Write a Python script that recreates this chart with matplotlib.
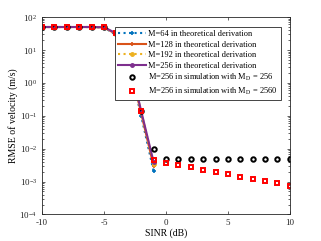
import matplotlib
matplotlib.use("Agg")
import matplotlib.pyplot as plt
import numpy as np

plt.rcParams['font.family'] = ['Liberation Serif', 'DejaVu Serif']
plt.rcParams['mathtext.fontset'] = 'stix'

# Data
sinr_theory = [-10, -9, -8, -7, -6, -5, -4, -3, -2, -1]
rmse_m64 = [50, 50, 50, 50, 50, 49, 28, 4.0, 0.10, 2.1e-3]
rmse_m128 = [50, 50, 50, 50, 50, 49, 30, 4.5, 0.12, 3.0e-3]
rmse_m192 = [50, 50, 50, 50, 50, 49, 31, 5.0, 0.13, 3.5e-3]
rmse_m256 = [50, 50, 50, 50, 50, 49, 32, 5.5, 0.14, 4.0e-3]

sinr_sim = [-10, -9, -8, -7, -6, -5, -4, -3, -2, -1, 0, 1, 2, 3, 4, 5, 6, 7, 8, 9, 10]
rmse_sim_md256 = [50, 50, 50, 50, 50, 49, 32, 5.5, 0.14, 9.5e-3,
                  5e-3, 5e-3, 5e-3, 5e-3, 5e-3, 5e-3, 5e-3, 5e-3, 5e-3, 5e-3, 5e-3]
rmse_sim_md2560 = [50, 50, 50, 50, 50, 49, 32, 5.5, 0.14, 4.5e-3,
                   3.8e-3, 3.2e-3, 2.7e-3, 2.3e-3, 1.95e-3, 1.65e-3, 1.4e-3, 1.2e-3, 1.02e-3, 8.8e-4, 7.5e-4]

labels = ["M=64 in theoretical derivation",
          "M=128 in theoretical derivation",
          "M=192 in theoretical derivation",
          "M=256 in theoretical derivation",
          "M=256 in simulation with M$_{\\mathrm{D}}$ = 256",
          "M=256 in simulation with M$_{\\mathrm{D}}$ = 2560"]

fig = plt.figure(figsize=(3.21, 2.41), dpi=100)
ax = fig.add_axes([0.131, 0.11, 0.772, 0.819])

ax.semilogy(sinr_theory, rmse_m64, ':', color='#0072BD', marker='+', ms=3.5, lw=1.5, mew=1.2, label=labels[0])
ax.semilogy(sinr_theory, rmse_m128, '-', color='#D95319', marker='+', ms=3.5, lw=1.5, mew=1.2, label=labels[1])
ax.semilogy(sinr_theory, rmse_m192, ':', color='#EDB120', marker='o', ms=2.5, lw=1.5, label=labels[2])
ax.semilogy(sinr_theory, rmse_m256, '-', color='#7E2F8E', marker='o', ms=2.5, lw=1.5, label=labels[3])
ax.semilogy(sinr_sim, rmse_sim_md256, 'o', color='k', mfc='none', ms=3.2, mew=1.4, label=labels[4])
ax.semilogy(sinr_sim, rmse_sim_md2560, 's', color='r', mfc='none', ms=3.2, mew=1.4, label=labels[5])

ax.set_xlim(-10, 10)
ax.set_ylim(1e-4, 1e2)
ax.set_xticks([-10, -5, 0, 5, 10])
ax.set_xticklabels(['-10', '-5', '0', '5', '10'])
ax.tick_params(axis='both', which='both', direction='in', top=True, right=True,
               labelsize=6.5, colors='#262626', width=0.5)
ax.tick_params(which='major', length=2.5)
ax.tick_params(which='minor', length=1.5)
for sp in ax.spines.values():
    sp.set_linewidth(0.6)
    sp.set_color('#262626')

ax.set_xlabel('SINR (dB)', fontsize=7, labelpad=1)
ax.set_ylabel('RMSE of velocity (m/s)', fontsize=7, labelpad=1)

leg = ax.legend(loc='upper right', bbox_to_anchor=(0.98, 0.97), fontsize=6,
                handlelength=3.3, handletextpad=0.3, labelspacing=0.3,
                borderpad=0.35, fancybox=False, framealpha=1, edgecolor='#262626')
leg.get_frame().set_linewidth(0.6)

fig.savefig('out.png', dpi=100)
